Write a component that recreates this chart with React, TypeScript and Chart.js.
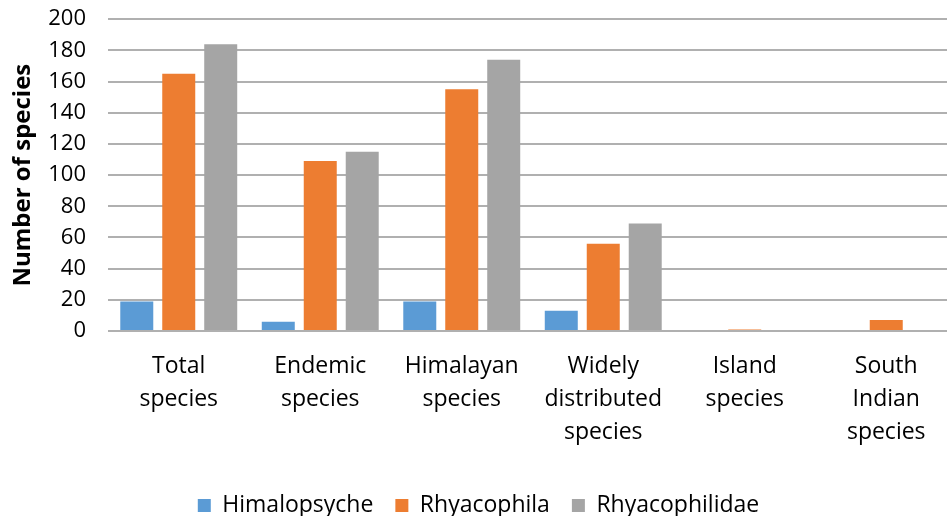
import React, { useEffect, useRef } from "react";
import { Chart, registerables } from "chart.js";

Chart.register(...registerables);

const categories: string[][] = [
  ["Total", "species"],
  ["Endemic", "species"],
  ["Himalayan", "species"],
  ["Widely", "distributed", "species"],
  ["Island", "species"],
  ["South", "Indian", "species"],
];
const himalopsyche = [19, 6, 19, 13, 0, 0];
const rhyacophila = [165, 109, 155, 56, 1, 7];
const rhyacophilidae = [184, 115, 174, 69, 0, 0];
const yTicks = { min: 0, max: 200, step: 20 };

const FONT = "'Open Sans', 'Liberation Sans', sans-serif";

export default function App() {
  const ref = useRef<HTMLCanvasElement | null>(null);
  useEffect(() => {
    if (!ref.current) return;
    const chart = new Chart(ref.current, {
      type: "bar",
      data: {
        labels: categories,
        datasets: [
          { label: "Himalopsyche", data: himalopsyche, backgroundColor: "#5B9BD5" },
          { label: "Rhyacophila", data: rhyacophila, backgroundColor: "#ED7D31" },
          { label: "Rhyacophilidae", data: rhyacophilidae, backgroundColor: "#A5A5A5" },
        ],
      },
      options: {
        animation: false,
        responsive: false,
        maintainAspectRatio: false,
        datasets: { bar: { barPercentage: 0.786, categoryPercentage: 0.89 } },
        layout: { padding: { top: 0, left: 0, right: 0, bottom: -11 } },
        plugins: {
          tooltip: { enabled: false },
          legend: {
            position: "bottom",
            labels: {
              font: { family: FONT, size: 23 },
              color: "#000",
              boxWidth: 13,
              boxHeight: 13,
              padding: 22,
            },
          },
        },
        scales: {
          x: {
            grid: { display: false, drawTicks: false },
            border: { display: false },
            ticks: {
              font: { family: FONT, size: 23, lineHeight: 1.43 },
              color: "#000",
              padding: 19,
              maxRotation: 0,
              autoSkip: false,
            },
            afterFit: (s: any) => {
              s.height = 141;
            },
          },
          y: {
            min: yTicks.min,
            max: yTicks.max,
            ticks: {
              stepSize: yTicks.step,
              autoSkip: false,
              font: { family: FONT, size: 22 },
              color: "#000",
              padding: 6,
            },
            grid: {
              color: "#B0B0B0",
              lineWidth: 2,
              drawTicks: true,
              tickLength: 16,
              tickColor: "rgba(0,0,0,0)",
            },
            border: { display: false },
            title: {
              display: true,
              text: "Number of species",
              font: { family: FONT, size: 24, weight: "bold" },
              color: "#000",
              padding: { top: 9, bottom: 0 },
            },
            afterFit: (s: any) => {
              s.width = 108;
            },
          },
        },
      },
    });
    return () => chart.destroy();
  }, []);
  return (
    <div style={{ position: "fixed", left: 0, top: 0, width: 957, height: 516, background: "#fff" }}>
      <canvas ref={ref} width={957} height={516} style={{ display: "block" }} />
    </div>
  );
}
